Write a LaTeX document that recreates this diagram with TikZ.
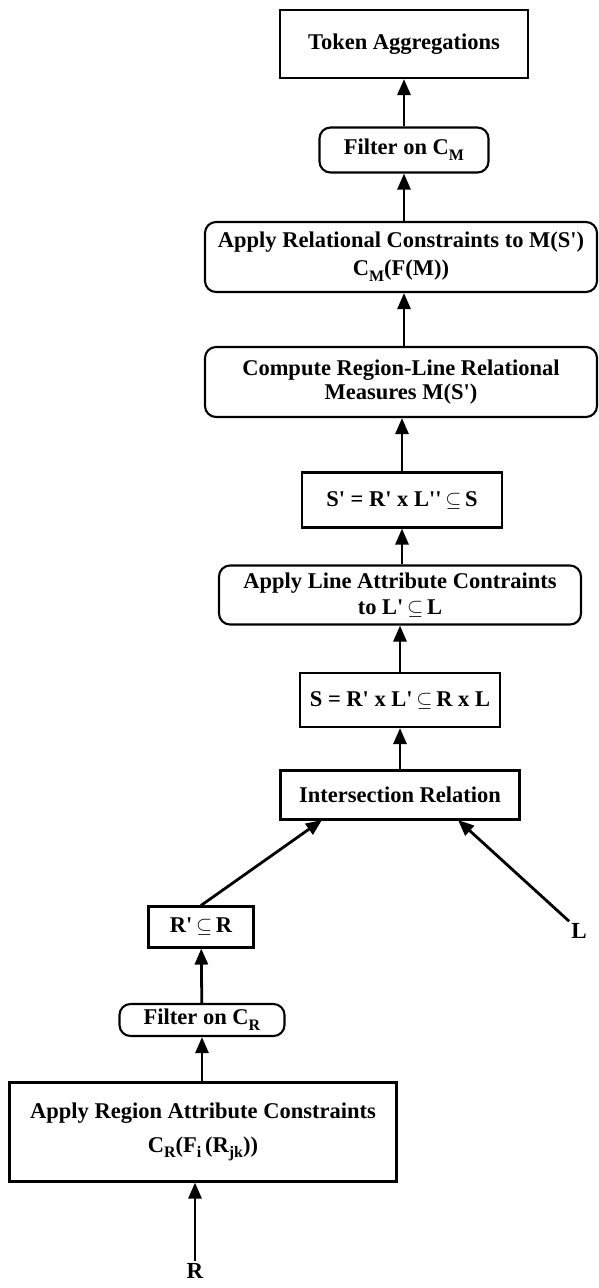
\documentclass[tikz,border=0pt]{standalone}
\usepackage{amssymb}
\usepackage{fontspec}
\setmainfont{Liberation Serif}
\usetikzlibrary{arrows.meta}
\newcommand\lowsub[1]{\raisebox{-0.55ex}{\fontsize{16}{16}\selectfont #1}}
\newcommand\sbeq{\,$\subseteq$\,}
\newcommand\pr{\textquotesingle}

\begin{document}
\begin{tikzpicture}[x=1pt,y=-1pt,
  box/.style={draw, line width=2.1pt, inner sep=0pt, align=center,
    font=\fontsize{22.5}{28}\selectfont\bfseries},
  rbox/.style={box, rounded corners=11pt},
  lbl/.style={inner sep=2pt, font=\fontsize{23}{26}\selectfont\bfseries},
  arr/.style={line width=2.8pt, -{Triangle[width=13pt,length=16pt]}}]
  \useasboundingbox (0,0) rectangle (598,1288);
  \node[box, minimum width=248pt, minimum height=68pt] (tok) at (404,44) {Token Aggregations};
  \node[rbox, minimum width=169pt, minimum height=45pt] (filtm) at (404,150) {Filter on C\lowsub{M}};
  \node[rbox, minimum width=392pt, minimum height=70pt] (rel) at (401,257)
    {Apply Relational Constraints to M(S\pr)\\C\lowsub{M}(F(M))};
  \node[rbox, minimum width=392pt, minimum height=70pt] (meas) at (401,382)
    {Compute Region-Line Relational\\[-4pt]Measures M(S\pr)};
  \node[box, minimum width=200pt, minimum height=55pt] (sp) at (402,500)
    {S\pr{} = R\pr{} x L\pr\pr\sbeq S};
  \node[rbox, minimum width=362pt, minimum height=59pt] (lattr) at (400,595)
    {Apply Line Attribute Contraints\\[-2pt]to L\pr\sbeq L};
  \node[box, minimum width=200pt, minimum height=54pt] (sj) at (400,700)
    {S = R\pr{} x L\pr\sbeq R x L};
  \node[box, minimum width=239pt, minimum height=49pt] (inter) at (400,795)
    {Intersection Relation};
  \node[box, minimum width=105pt, minimum height=41pt] (rp) at (201,927) {R\pr\sbeq R};
  \node[rbox, minimum width=165pt, minimum height=32pt] (filtr) at (202,1020) {Filter on C\lowsub{R}};
  \node[box, minimum width=387pt, minimum height=99pt] (reg) at (203,1132)
    {Apply Region Attribute Constraints\\[6pt]C\lowsub{R}(F\lowsub{i}\,(R\lowsub{jk}))};
  \node[lbl] (rlab) at (195,1271) {R};
  \node[lbl] (llab) at (579,931) {L};
  \coordinate (inl) at (322,820);
  \coordinate (inr) at (458,820);
  \draw[arr] (filtm) -- (tok);
  \draw[arr] (rel.north -| filtm) -- (filtm);
  \draw[arr] (meas.north -| filtm) -- (rel.south -| filtm);
  \draw[arr] (sp) -- (sp |- meas.south);
  \draw[arr] (lattr.north -| sp) -- (sp);
  \draw[arr] (sj) -- (sj |- lattr.south);
  \draw[arr] (inter) -- (sj);
  \draw[arr] (rp.north) -- (inl);
  \draw[arr] (llab.north west) -- (inr);
  \draw[arr] (filtr) -- (rp);
  \draw[arr] (reg.north -| filtr) -- (filtr);
  \draw[arr] (rlab.north) -- (rlab |- reg.south);
\end{tikzpicture}
\end{document}
